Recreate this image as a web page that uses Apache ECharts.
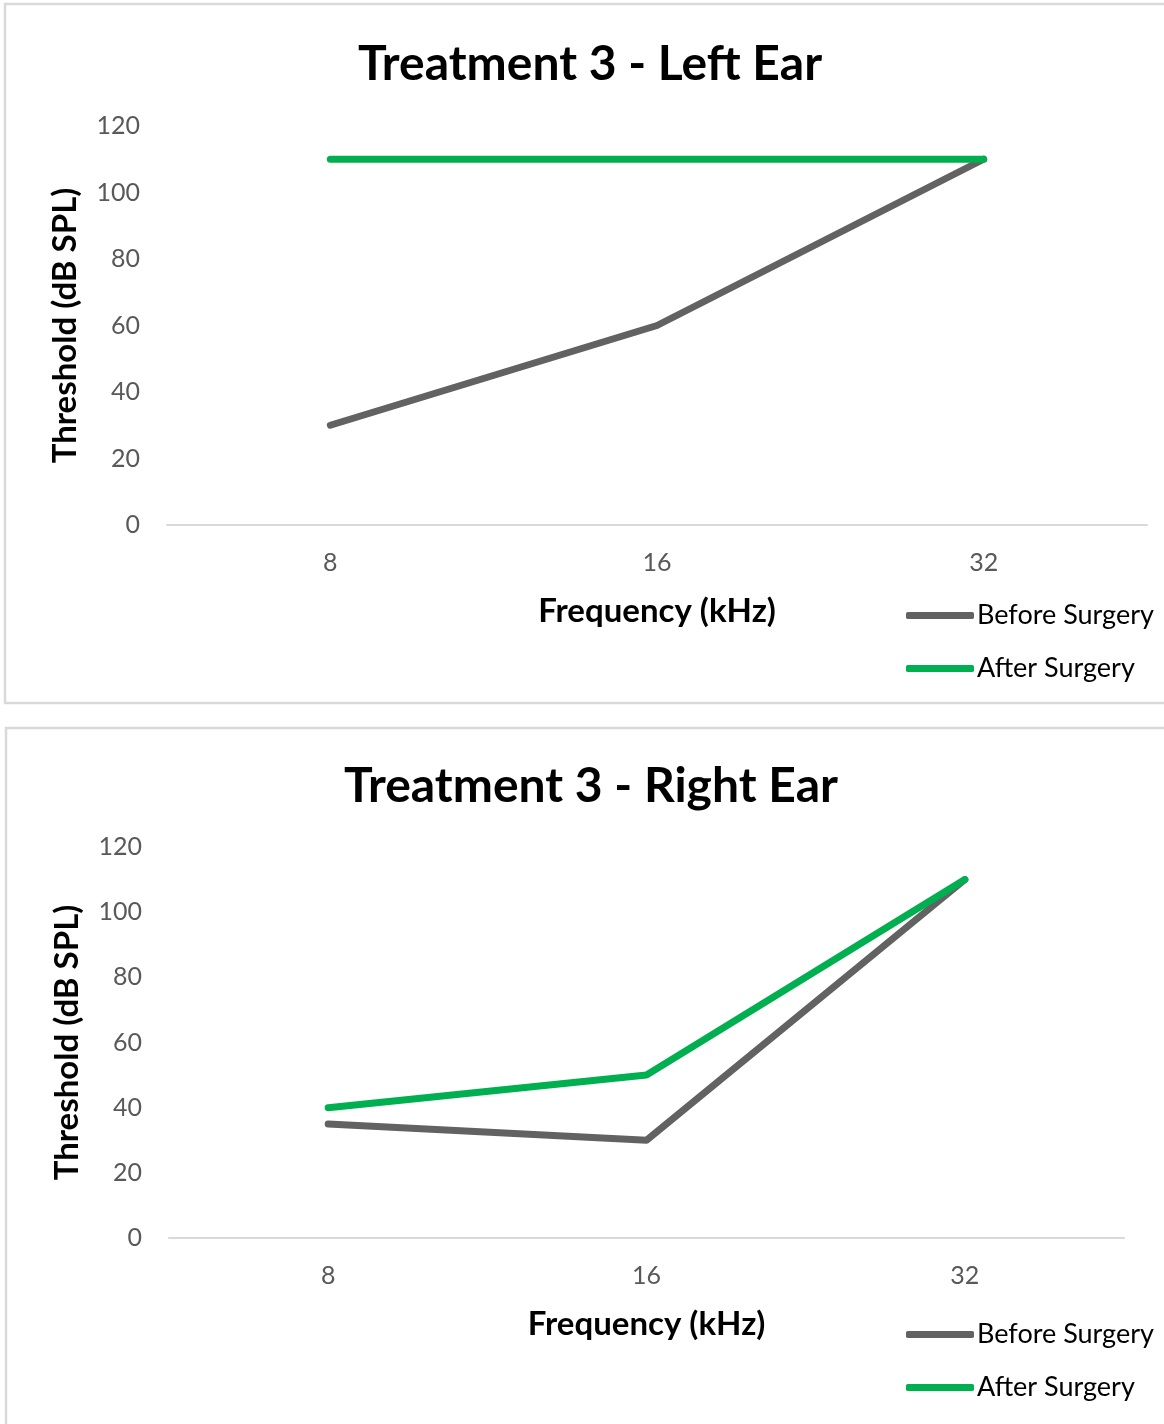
<!DOCTYPE html>
<html>
<head>
<meta charset="utf-8">
<script src="https://cdn.jsdelivr.net/npm/echarts@6/dist/echarts.min.js"></script>
<style>
  html, body { margin: 0; padding: 0; background: #fff; }
  #chart { width: 1164px; height: 1424px; }
</style>
</head>
<body>
<div id="chart"></div>
<script>
// Hearing thresholds per frequency, before and after surgery
const frequencies = ['8', '16', '32'];
const leftBefore = [30, 60, 110];
const leftAfter = [110, 110, 110];
const rightBefore = [35, 30, 110];
const rightAfter = [40, 50, 110];
const yTicks = [0, 20, 40, 60, 80, 100, 120];

const titles = ['Treatment 3 - Left Ear', 'Treatment 3 - Right Ear'];
const seriesNames = ['Before Surgery', 'After Surgery'];
const seriesColors = ['#626262', '#00b050'];

const FONT = 'Lato, "Open Sans", sans-serif';
const chart = echarts.init(document.getElementById('chart'), null, { renderer: 'canvas' });

const grids = [
  { left: 167, right: 17, top: 126, height: 399 },
  { left: 169, right: 40, top: 847, height: 391 }
];

function xAxis(i) {
  return {
    type: 'category', gridIndex: i, data: frequencies, boundaryGap: true,
    axisLine: { lineStyle: { color: '#d9d9d9', width: 2 } },
    axisTick: { show: false },
    axisLabel: { color: '#595959', fontFamily: FONT, fontSize: 25, margin: 25 },
    name: 'Frequency (kHz)', nameLocation: 'middle', nameGap: 70,
    nameTextStyle: { color: '#000', fontFamily: FONT, fontWeight: 'bold', fontSize: 33 }
  };
}
function yAxis(i) {
  return {
    type: 'value', gridIndex: i, min: yTicks[0], max: yTicks[yTicks.length - 1], interval: 20,
    axisLine: { show: false }, axisTick: { show: false }, splitLine: { show: false },
    axisLabel: { color: '#595959', fontFamily: FONT, fontSize: 25, margin: 27 },
    name: 'Threshold (dB SPL)', nameLocation: 'middle', nameGap: 85,
    nameTextStyle: { color: '#000', fontFamily: FONT, fontWeight: 'bold', fontSize: 33 }
  };
}
function line(name, data, idx, color) {
  return {
    type: 'line', name: name, data: data, xAxisIndex: idx, yAxisIndex: idx,
    symbol: 'none', showSymbol: false, silent: true,
    lineStyle: { color: color, width: 7, cap: 'round', join: 'round' },
    itemStyle: { color: color }
  };
}
function legend(top) {
  return {
    orient: 'vertical', left: 901, top: top, itemGap: 26,
    itemWidth: 68, itemHeight: 7, icon: 'roundRect',
    data: seriesNames,
    textStyle: { color: '#000', fontFamily: FONT, fontSize: 27, padding: [0, 0, 0, -2] }
  };
}

chart.setOption({
  animation: false,
  textStyle: { fontFamily: FONT },
  graphic: [
    { type: 'rect', shape: { x: 5, y: 4, width: 1180, height: 699 }, style: { fill: 'none', stroke: '#d9d9d9', lineWidth: 2.5 } },
    { type: 'rect', shape: { x: 6, y: 728, width: 1180, height: 720 }, style: { fill: 'none', stroke: '#d9d9d9', lineWidth: 2.5 } }
  ],
  title: [
    { text: titles[0], left: 585, top: 36, textAlign: 'center',
      textStyle: { color: '#000', fontFamily: FONT, fontWeight: 'bold', fontSize: 48 } },
    { text: titles[1], left: 586, top: 758, textAlign: 'center',
      textStyle: { color: '#000', fontFamily: FONT, fontWeight: 'bold', fontSize: 48 } }
  ],
  legend: [legend(597), legend(1316)],
  grid: grids,
  xAxis: [xAxis(0), xAxis(1)],
  yAxis: [yAxis(0), yAxis(1)],
  series: [
    line(seriesNames[0], leftBefore, 0, seriesColors[0]),
    line(seriesNames[1], leftAfter, 0, seriesColors[1]),
    line(seriesNames[0], rightBefore, 1, seriesColors[0]),
    line(seriesNames[1], rightAfter, 1, seriesColors[1])
  ]
});
</script>
</body>
</html>
